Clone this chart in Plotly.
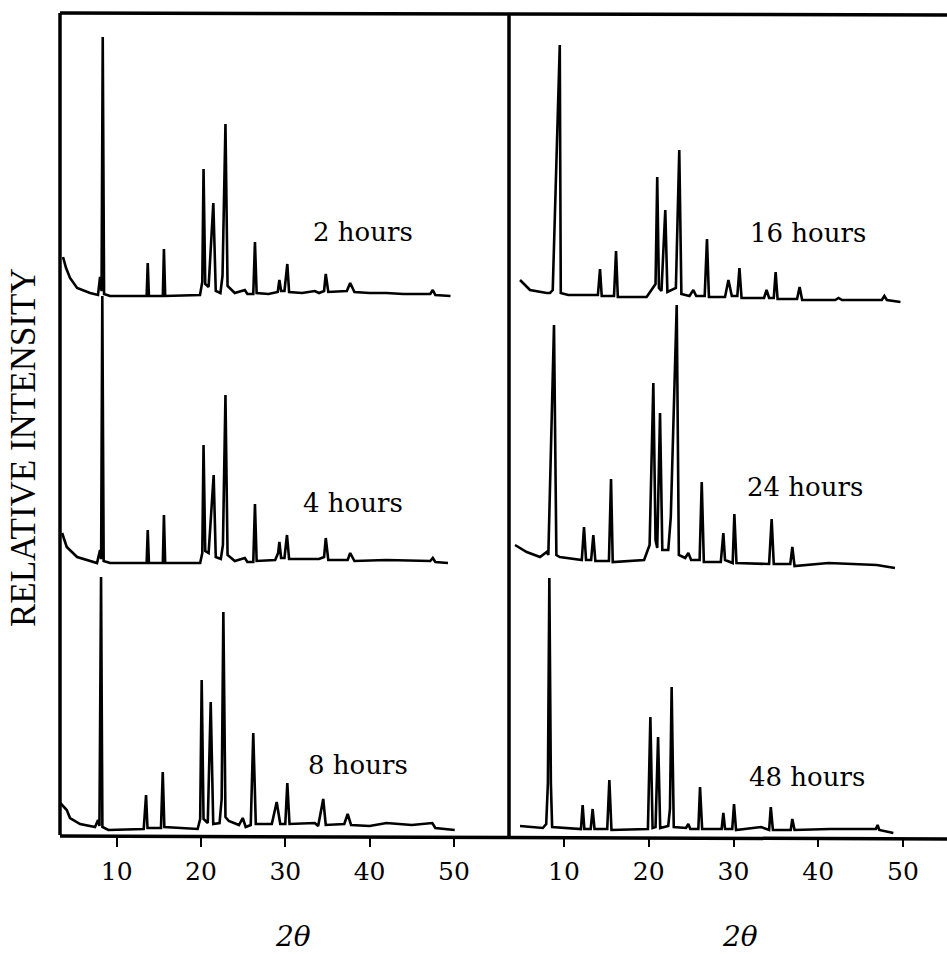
import plotly.graph_objects as go

W, H = 947, 954

# ---- data (2-theta in degrees, relative intensity in arbitrary units) ----
tt_2h = [3.63, 3.99, 4.46, 5.30, 6.84, 7.78, 8.02, 8.20, 8.34, 8.50, 9.2, 13.55, 13.68, 13.82, 15.47, 15.60, 15.75,
         19.88, 20.15, 20.30, 20.50, 20.90, 21.46, 21.75, 22.30, 22.55, 22.90, 23.15, 24.0, 25.2, 25.5, 26.2, 26.4,
         26.6, 28.0, 29.1, 29.3, 29.5, 29.9, 30.24, 30.45, 32.0, 33.5, 34.0, 34.6, 34.8, 35.1, 37.3, 37.7, 38.2,
         40.0, 42.0, 44.0, 47.2, 47.5, 47.8, 49.6]
I_2h = [39, 28, 18, 8, 3, 1, 19, 5, 259, 2, 0, 0, 33, 0, 0, 47, 0, 1, 14, 127, 12, 9, 93, 5, 3, 20, 172, 10, 3, 6,
        2, 2, 54, 3, 2, 4, 16, 5, 5, 32, 4, 3, 5, 3, 5, 22, 4, 5, 13, 4, 3, 3, 2, 2, 6, 1, 0]

tt_4h = [3.52, 4.07, 5.30, 6.84, 7.66, 8.02, 8.15, 8.29, 8.45, 9.2, 13.55, 13.68, 13.82, 15.47, 15.60, 15.75, 19.9,
         20.15, 20.30, 20.50, 20.90, 21.50, 21.75, 22.35, 22.60, 22.90, 23.15, 24.0, 25.2, 25.5, 26.2, 26.4, 26.6,
         28.8, 29.15, 29.3, 29.5, 29.9, 30.2, 30.45, 34.0, 34.6, 34.8, 35.1, 37.4, 37.7, 38.2, 42.0, 47.2, 47.5,
         47.8, 49.3]
I_4h = [30, 16, 6, 2, 0, 13, 4, 267, 2, 0, 0, 33, 0, 0, 48, 0, 0, 10, 118, 12, 10, 88, 6, 4, 18, 168, 8, 2, 5, 1,
        1, 59, 2, 3, 10, 21, 5, 5, 28, 4, 4, 6, 25, 3, 3, 10, 2, 3, 2, 5, 1, 0]

tt_8h = [3.3, 4.07, 4.46, 5.65, 7.43, 7.78, 7.95, 8.14, 8.30, 9.0, 13.2, 13.48, 13.65, 15.25, 15.46, 15.65, 19.6,
         19.9, 20.08, 20.3, 20.8, 21.15, 21.45, 22.2, 22.45, 22.65, 22.9, 23.3, 24.5, 24.95, 25.3, 25.9, 26.2, 26.5,
         28.4, 28.98, 29.4, 30.0, 30.24, 30.5, 33.5, 33.9, 34.5, 34.8, 37.0, 37.4, 37.8, 40.0, 42.0, 45.0, 47.44,
         47.8, 50.1]
I_8h = [26, 19, 11, 5, 2, 9, 3, 252, 2, -1, 0, 34, 1, 1, 57, 2, 0, 10, 149, 10, 6, 127, 5, 6, 30, 217, 12, 8, 4,
        11, 2, 4, 96, 5, 5, 27, 5, 5, 46, 5, 6, 3, 30, 4, 5, 15, 4, 3, 6, 4, 6, 1, -1]

tt_16h = [4.81, 5.99, 7.96, 8.35, 8.67, 9.50, 9.62, 10.5, 14.0, 14.25, 14.45, 15.9, 16.14, 16.35, 19.75, 20.8, 21.0,
          21.2, 21.5, 21.95, 22.2, 23.2, 23.6, 23.85, 24.8, 25.26, 25.6, 26.6, 26.87, 27.1, 29.0, 29.4, 29.8, 30.45,
          30.7, 30.95, 33.6, 33.9, 34.2, 34.75, 34.97, 35.2, 37.5, 37.8, 38.1, 42.0, 42.4, 42.8, 47.5, 47.8, 48.1,
          49.7]
I_16h = [16, 6, 3, 3, 6, 251, 3, 1, 1, 27, 0, 0, 45, -1, -1, 12, 119, 8, 5, 86, 4, 8, 146, 2, 0, 6, 0, 0, 57, -1,
         -1, 16, 0, 0, 28, -2, -2, 6, -2, -2, 24, -3, -3, 9, -4, -4, -2, -4, -4, 0, -4, -6]

tt_24h = [4.22, 5.60, 7.17, 7.96, 8.15, 8.82, 9.10, 9.50, 12.1, 12.36, 12.6, 13.2, 13.46, 13.7, 15.3, 15.55, 15.75,
          19.45, 20.1, 20.54, 20.8, 21.0, 21.33, 21.6, 22.3, 22.6, 23.3, 23.55, 24.3, 24.67, 25.0, 26.0, 26.25, 26.5,
          28.5, 28.8, 29.0, 29.9, 30.1, 30.35, 34.2, 34.5, 34.75, 36.7, 36.94, 37.2, 41.2, 46.9, 49.05]
I_24h = [15, 8, 3, 8, 5, 235, 5, 3, 0, 33, 0, 0, 25, -1, -1, 81, -2, 0, 15, 177, 20, 12, 147, 10, 10, 43, 255, 5,
         2, 7, 0, 0, 78, -2, -2, 27, 0, -3, 46, -3, -4, 41, -4, -4, 13, -6, -3, -5, -8]

tt_48h = [4.81, 7.5, 7.9, 8.1, 8.27, 8.45, 8.6, 12.0, 12.2, 12.4, 13.15, 13.38, 13.6, 15.1, 15.35, 15.6, 19.9, 20.19,
          20.45, 20.8, 21.1, 21.35, 22.3, 22.5, 22.7, 22.95, 24.4, 24.67, 24.9, 25.85, 26.05, 26.3, 28.6, 28.8, 29.0,
          29.85, 30.06, 30.3, 33.25, 34.2, 34.4, 34.65, 36.75, 36.94, 37.2, 41.4, 46.8, 47.0, 47.2, 48.86]
I_48h = [3, 1, 5, 46, 251, 46, 2, 0, 24, 0, 0, 20, 0, 0, 49, -1, 0, 112, 1, 2, 92, 1, 3, 20, 142, 2, 1, 5, 0, 0, 42,
         0, 0, 16, 0, 0, 25, -1, 2, -1, 22, -1, -1, 10, -1, 0, 0, 4, -1, -4]

labels = ["2 hours", "4 hours", "8 hours", "16 hours", "24 hours", "48 hours"]
offsets = [541, 274, 8, 541, 277, 8]
panel = [1, 1, 1, 2, 2, 2]
tick_vals = [10, 20, 30, 40, 50]
tick_text = ["10", "20", "30", "40", "50"]
series = [(tt_2h, I_2h), (tt_4h, I_4h), (tt_8h, I_8h), (tt_16h, I_16h), (tt_24h, I_24h), (tt_48h, I_48h)]


def px(x):
    return x / W


def py(y):
    return 1 - y / H


fig = go.Figure()
for (tt, I), off, p, name in zip(series, offsets, panel, labels):
    assert len(tt) == len(I), name
    fig.add_trace(go.Scatter(
        x=tt, y=[v + off for v in I], mode="lines", name=name,
        line=dict(color="black", width=2.6, shape="linear"),
        xaxis="x" if p == 1 else "x2", yaxis="y", showlegend=False, hoverinfo="skip"))

tickfont = dict(family="DejaVu Serif", size=25, color="black")
axis_common = dict(tickvals=tick_vals, ticktext=tick_text, ticks="outside", ticklen=9, tickwidth=2,
                   tickcolor="black", tickfont=tickfont, showgrid=False, zeroline=False, showline=False,
                   anchor="y", fixedrange=True, ticklabelstandoff=3)
fig.update_layout(
    width=W, height=H, margin=dict(l=0, r=0, t=0, b=0),
    paper_bgcolor="white", plot_bgcolor="white",
    xaxis=dict(domain=[px(60), px(509)], range=[3.27, 56.54], **axis_common),
    xaxis2=dict(domain=[px(509), 1.0], range=[3.51, 55.19], **axis_common),
    yaxis=dict(domain=[py(837), py(14)], range=[0, 823], showticklabels=False, ticks="",
               showgrid=False, zeroline=False, showline=False, fixedrange=True),
)

# frame
lw = 3.5
frame = [((60, 835), (60, 13)), ((60, 13), (947, 15)), ((60, 836), (947, 839)), ((509, 13), (509, 838))]
for (x0, y0), (x1, y1) in frame:
    fig.add_shape(type="line", xref="paper", yref="paper", x0=px(x0), y0=py(y0), x1=px(x1), y1=py(y1),
                  line=dict(color="black", width=lw))

label_pos = [(363, 232), (353, 503), (358, 765), (808, 233), (805, 487), (807, 777)]
for txt, (lx, ly) in zip(labels, label_pos):
    fig.add_annotation(text=txt, x=px(lx), y=py(ly), xref="paper", yref="paper", showarrow=False,
                       xanchor="center", yanchor="middle",
                       font=dict(family="DejaVu Serif", size=26, color="black"))

fig.add_annotation(text="RELATIVE INTENSITY", x=px(24), y=py(448), xref="paper", yref="paper", showarrow=False,
                   textangle=-90, xanchor="center", yanchor="middle",
                   font=dict(family="Liberation Serif", size=35, color="black"))
for lx in (293, 740):
    fig.add_annotation(text="<i>2θ</i>", x=px(lx), y=py(936), xref="paper", yref="paper", showarrow=False,
                       xanchor="center", yanchor="middle",
                       font=dict(family="DejaVu Serif", size=28, color="black"))

fig.write_html("out.html")
